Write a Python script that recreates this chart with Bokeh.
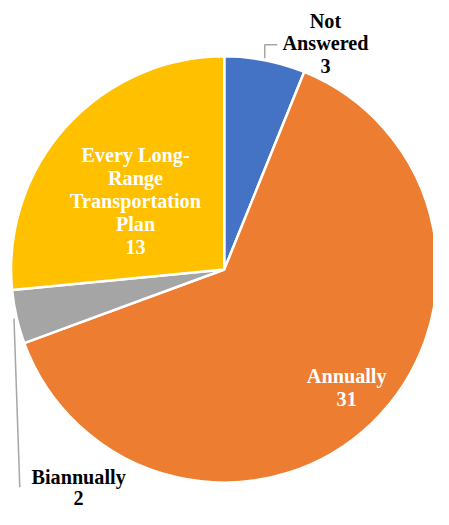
import numpy as np
from bokeh.plotting import figure
from bokeh.models import Range1d, ColumnDataSource
from bokeh.core.properties import value
from bokeh.embed import file_html
from bokeh.resources import INLINE

# ---- data ----
categories = ["Not Answered", "Annually", "Biannually", "Every Long-Range Transportation Plan"]
counts = [3, 31, 2, 13]
colors = ["#4472C4", "#ED7D31", "#A5A5A5", "#FFC000"]
label_lines = [["Not", "Answered"], ["Annually"], ["Biannually"],
               ["Every Long-", "Range", "Transportation", "Plan"]]

# ---- layout: data units = reference pixels, drawn into a 433x509 figure (uniform scale) ----
W, H = 433, 509
REF_W, REF_H = 449, 528
cx, cy, R = 232, 279, 221
label_pos = [(337, 21), (359, 390), (81, 494), (140, 160)]
line_step = [23.5, 23, 22, 24]
label_colors = ["black", "white", "black", "white"]

p = figure(width=W, height=H, output_backend="svg", toolbar_location=None,
           x_range=Range1d(0, REF_W), y_range=Range1d(-REF_H, 0),
           min_border=0, outline_line_color=None, background_fill_color="white")
p.axis.visible = False
p.grid.visible = False

total = sum(counts)
fracs = np.array(counts) / total
ends = np.cumsum(fracs)
starts = np.concatenate([[0.0], ends[:-1]])
start_angle = np.pi / 2 - starts * 2 * np.pi
end_angle = np.pi / 2 - ends * 2 * np.pi

src = ColumnDataSource(dict(x=[cx] * len(counts), y=[-cy] * len(counts),
                            start=list(start_angle), end=list(end_angle),
                            color=colors, cat=categories, n=counts))
p.wedge(x="x", y="y", radius=R, start_angle="end", end_angle="start",
        fill_color="color", line_color="white", line_width=2.5, source=src)

# leader lines
p.line([274, 274, 287], [-60, -46, -46], line_color="#A6A6A6", line_width=1.5)
p.line([14, 20], [-330, -505], line_color="#A6A6A6", line_width=1.5)

# labels
tx, ty, tt, tc = [], [], [], []
for i, lines in enumerate(label_lines):
    x0, y0 = label_pos[i]
    all_lines = lines + [str(counts[i])]
    for k, s in enumerate(all_lines):
        tx.append(x0)
        ty.append(-(y0 + k * line_step[i]))
        tt.append(s)
        tc.append(label_colors[i])
p.text(x=tx, y=ty, text=tt, text_color=tc, text_align="center",
       text_baseline="alphabetic", text_font=value("Liberation Serif"),
       text_font_style="bold", text_font_size="20.2px")

open("out.html", "w").write(file_html(p, INLINE))
